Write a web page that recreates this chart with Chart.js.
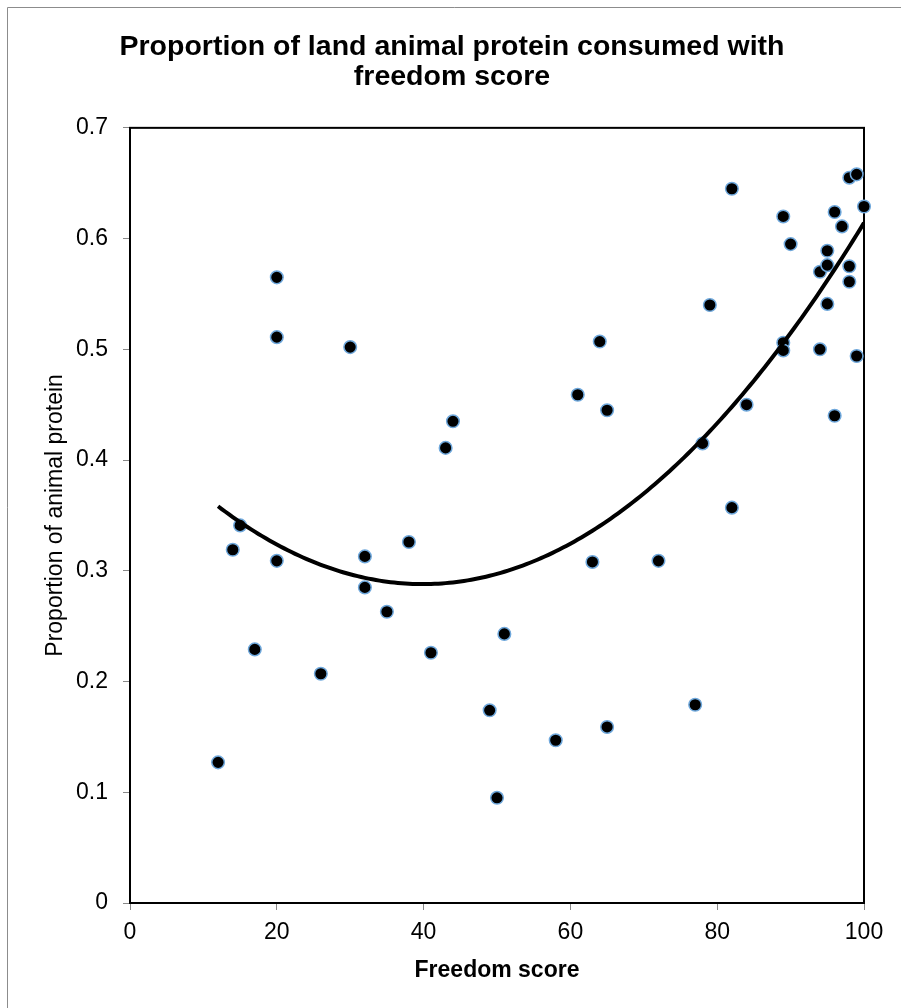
<!DOCTYPE html>
<html lang="en">

<head>
    <meta charset="UTF-8">
    <title>Proportion of land animal protein consumed with freedom score</title>
    <script src="https://cdn.jsdelivr.net/npm/chart.js"></script>
    <style>
        html, body { margin: 0; padding: 0; background: #fff; }
        #chartBox { width: 901px; height: 1008px; }
    </style>
</head>

<body>
    <div id="chartBox">
        <canvas id="proteinChart" width="901" height="1008"></canvas>
    </div>

    <script>
        // Freedom score (x) and proportion of animal protein (y), one entry per country
        const freedomScores = [12, 14, 15, 17, 20, 20, 20, 26, 30, 32, 32, 35, 38, 41, 43, 44, 49, 50, 51, 58,
            61, 63, 64, 65, 65, 72, 77, 78, 79, 82, 82, 84, 89, 89, 89, 90, 94, 94, 95, 95,
            95, 96, 96, 97, 98, 98, 98, 99, 99, 100];
        const proteinShares = [0.127, 0.319, 0.341, 0.229, 0.565, 0.511, 0.309, 0.207, 0.502, 0.313, 0.285, 0.263, 0.326, 0.226, 0.411, 0.435, 0.174, 0.095, 0.243, 0.147,
            0.459, 0.308, 0.507, 0.445, 0.159, 0.309, 0.179, 0.415, 0.540, 0.645, 0.357, 0.450, 0.620, 0.506, 0.499, 0.595, 0.570, 0.500, 0.589, 0.576,
            0.541, 0.624, 0.440, 0.611, 0.655, 0.575, 0.561, 0.658, 0.494, 0.629];
        const xTicks = [0, 20, 40, 60, 80, 100];
        const yTicks = [0, 0.1, 0.2, 0.3, 0.4, 0.5, 0.6, 0.7];

        // 2nd order polynomial trend line (least squares, like the spreadsheet trendline)
        function polyFit2(xs, ys) {
            let s = [0, 0, 0, 0, 0], t = [0, 0, 0];
            for (let i = 0; i < xs.length; i++) {
                let p = 1;
                for (let k = 0; k < 5; k++) { s[k] += p; if (k < 3) t[k] += p * ys[i]; p *= xs[i]; }
            }
            let m = [[s[0], s[1], s[2], t[0]], [s[1], s[2], s[3], t[1]], [s[2], s[3], s[4], t[2]]];
            for (let c = 0; c < 3; c++) {
                for (let r = c + 1; r < 3; r++) {
                    let f = m[r][c] / m[c][c];
                    for (let k = c; k < 4; k++) m[r][k] -= f * m[c][k];
                }
            }
            let res = [0, 0, 0];
            for (let r = 2; r >= 0; r--) {
                let v = m[r][3];
                for (let k = r + 1; k < 3; k++) v -= m[r][k] * res[k];
                res[r] = v / m[r][r];
            }
            return res;
        }

        const coef = polyFit2(freedomScores, proteinShares);
        const trendPoints = [];
        for (let x = Math.min(...freedomScores); x <= Math.max(...freedomScores); x += 0.5) {
            trendPoints.push({ x: x, y: coef[0] + coef[1] * x + coef[2] * x * x });
        }
        const scatterPoints = freedomScores.map((x, i) => ({ x: x, y: proteinShares[i] }));

        // outer frame + plot box
        const framePlugin = {
            id: "framePlugin",
            beforeDatasetsDraw(chart) {
                const ctx = chart.ctx;
                const a = chart.chartArea;
                ctx.save();
                ctx.strokeStyle = "#8c8c8c";
                ctx.lineWidth = 1;
                ctx.beginPath();
                ctx.moveTo(7.5, 1008);
                ctx.lineTo(7.5, 7.5);
                ctx.lineTo(901, 7.5);
                ctx.stroke();
                ctx.strokeStyle = "#000";
                ctx.lineWidth = 2;
                ctx.strokeRect(a.left, a.top, a.right - a.left, a.bottom - a.top);
                ctx.restore();
            }
        };

        let ctx = document.getElementById("proteinChart").getContext("2d");
        new Chart(ctx, {
            type: "scatter",
            data: {
                datasets: [
                    {
                        label: "Trend",
                        data: trendPoints,
                        showLine: true,
                        borderColor: "#000",
                        borderWidth: 4,
                        pointRadius: 0,
                        tension: 0,
                    },
                    {
                        label: "Countries",
                        data: scatterPoints,
                        backgroundColor: "#000",
                        borderColor: "#6fa8dc",
                        borderWidth: 1.5,
                        pointRadius: 6.3,
                        clip: false,
                    },
                ],
            },
            options: {
                responsive: false,
                devicePixelRatio: 1,
                animation: false,
                layout: { padding: { left: 40, right: 37, top: 0, bottom: 0 } },
                plugins: {
                    legend: { display: false },
                    tooltip: { enabled: false },
                    title: {
                        display: true,
                        text: ["Proportion of land animal protein consumed with", "freedom score"],
                        color: "#000",
                        font: { family: "'Liberation Sans', Arial, sans-serif", size: 28.5, weight: "bold", lineHeight: 1.05 },
                        padding: { top: 32, bottom: 36 },
                    },
                },
                scales: {
                    x: {
                        type: "linear",
                        min: 0,
                        max: 100,
                        afterBuildTicks: (scale) => { scale.ticks = xTicks.map(v => ({ value: v })); },
                        afterFit: (scale) => { scale.height = 105; },
                        border: { display: false },
                        grid: { drawOnChartArea: false, drawTicks: true, tickLength: 7, color: "#888", lineWidth: 1 },
                        ticks: { color: "#000", padding: 9, font: { family: "'Liberation Sans', Arial, sans-serif", size: 23 } },
                        title: {
                            display: true,
                            text: "Freedom score",
                            color: "#000",
                            font: { family: "'Liberation Sans', Arial, sans-serif", size: 23, weight: "bold" },
                            padding: { top: 0, bottom: 24 },
                        },
                    },
                    y: {
                        type: "linear",
                        min: 0,
                        max: 0.7,
                        afterBuildTicks: (scale) => { scale.ticks = yTicks.map(v => ({ value: v })); },
                        afterFit: (scale) => { scale.width = 90; },
                        border: { display: false },
                        grid: { drawOnChartArea: false, drawTicks: true, tickLength: 7, color: "#888", lineWidth: 1 },
                        ticks: {
                            color: "#000",
                            padding: 15,
                            font: { family: "'Liberation Sans', Arial, sans-serif", size: 23 },
                            callback: (v) => (v === 0 ? "0" : v.toFixed(1)),
                        },
                        title: {
                            display: true,
                            text: "Proportion of animal protein",
                            color: "#000",
                            font: { family: "'Liberation Sans', Arial, sans-serif", size: 23 },
                            padding: { top: 2, bottom: 0 },
                        },
                    },
                },
            },
            plugins: [framePlugin],
        });
    </script>
</body>

</html>
